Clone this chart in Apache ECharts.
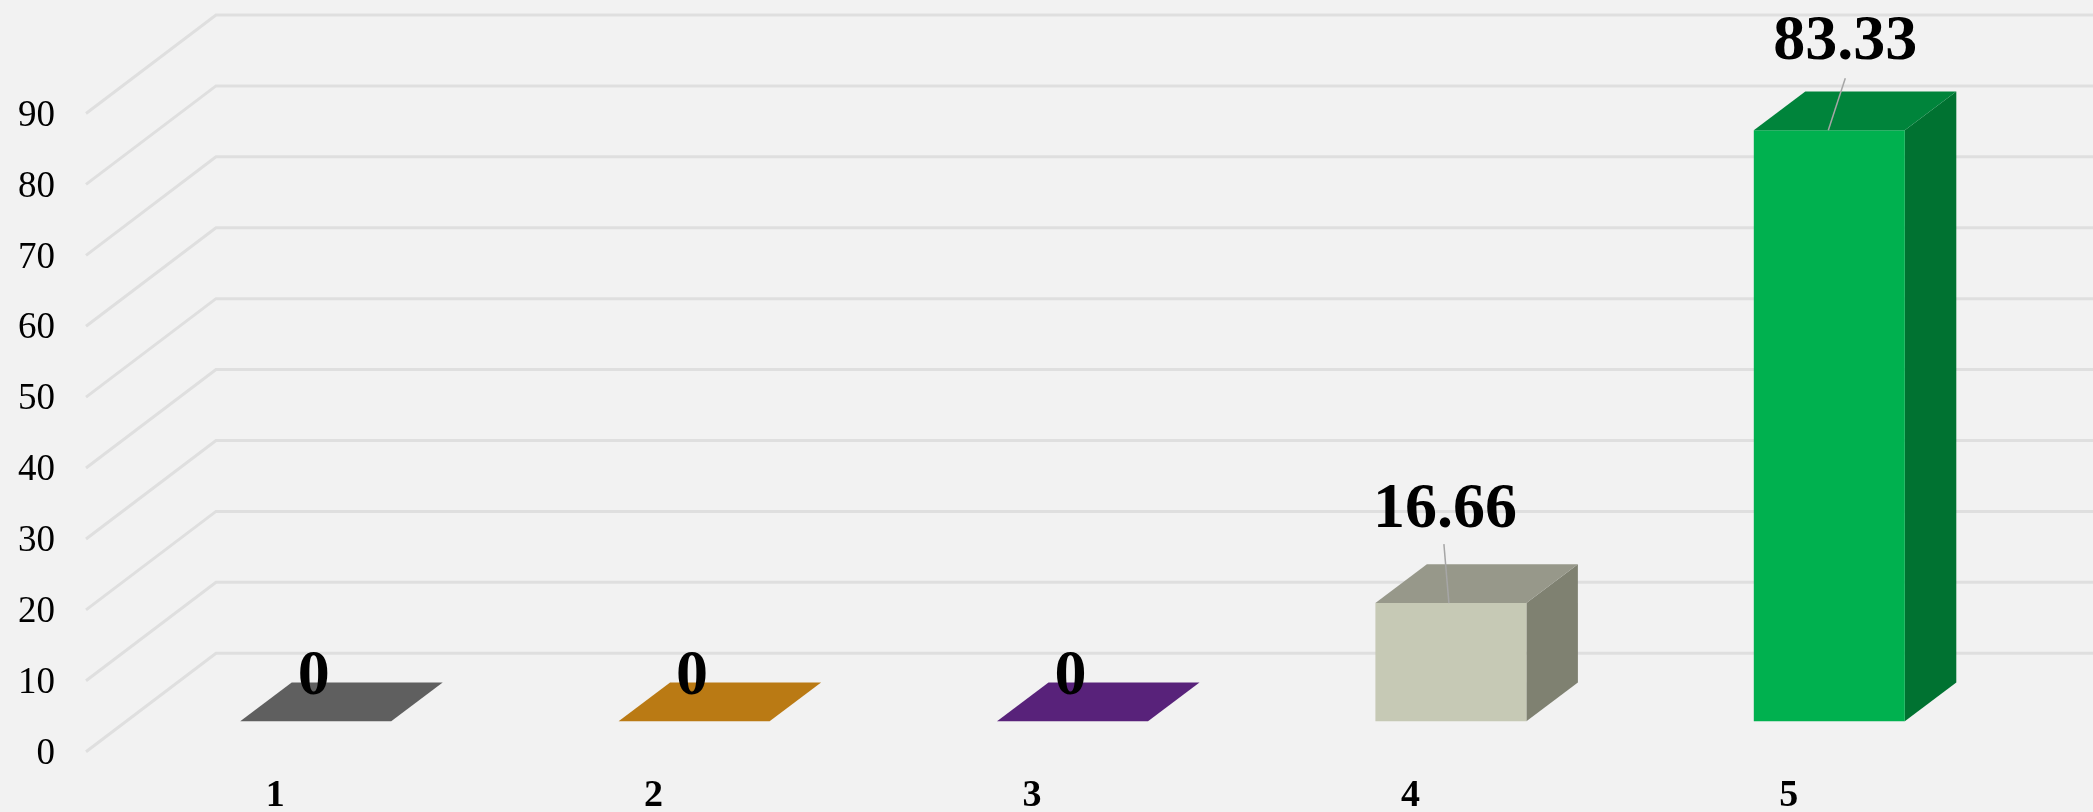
<!DOCTYPE html>
<html>
<head>
<meta charset="utf-8">
<style>html,body{margin:0;padding:0;background:#F2F2F2}#c{width:2093px;height:812px;filter:blur(0.5px)}</style>
<script src="https://cdn.jsdelivr.net/npm/echarts@6/dist/echarts.min.js"></script>
</head>
<body>
<div id="c"></div>
<script>
const categories = ['1', '2', '3', '4', '5'];
const values = [0, 0, 0, 16.66, 83.33];
const valueLabels = ['0', '0', '0', '16.66', '83.33'];
const yTicks = [0, 10, 20, 30, 40, 50, 60, 70, 80, 90];

const frontColors = ['#707070', '#D08A18', '#652A8C', '#C6C9B5', '#00B14F'];
const topColors = ['#5F5F5F', '#BA7A14', '#58227A', '#97988A', '#00843B'];
const sideColors = ['#505050', '#9C6610', '#481B66', '#7F8171', '#007231'];

// label placement relative to the top-front centre of each bar
const labelShiftX = [-2, -2, -2, -6, 16];
const labelShiftY = [-44, -44, -44, -93, -88];
const leaderFrom = [null, null, null, [-7, -59], [16, -52]];
const leaderTo = [null, null, null, [-2, 0], [-1, 0]];

const font = '"Liberation Serif", "Times New Roman", serif';
const wallDX = 130, wallDY = -98.5;
const barOffsetX = 40.5, barOffsetY = -30.5, barDepthX = 51.5, barDepthY = -38.8, barWidth = 151;

function renderGrid(params, api) {
  const p = api.coord([0, api.value(0)]);
  const x0 = params.coordSys.x;
  return {
    type: 'polyline',
    shape: { points: [[x0, p[1]], [x0 + wallDX, p[1] + wallDY], [2100, p[1] + wallDY]] },
    style: { fill: null, stroke: '#DFDFDF', lineWidth: 3 }
  };
}

function renderBar(params, api) {
  const i = params.dataIndex;
  const base = api.coord([i, 0]);
  const top = api.coord([i, api.value(1)]);
  const l = base[0] + barOffsetX - barWidth / 2, r = l + barWidth;
  const b = base[1] + barOffsetY, t = top[1] + barOffsetY;
  const dx = barDepthX, dy = barDepthY;
  const cx = (l + r) / 2;
  const children = [];
  if (b - t > 0.5) {
    children.push({ type: 'polygon', shape: { points: [[r, t], [r + dx, t + dy], [r + dx, b + dy], [r, b]] }, style: { fill: sideColors[i] } });
    children.push({ type: 'polygon', shape: { points: [[l, t], [r, t], [r, b], [l, b]] }, style: { fill: frontColors[i] } });
  }
  children.push({ type: 'polygon', shape: { points: [[l, t], [l + dx, t + dy], [r + dx, t + dy], [r, t]] }, style: { fill: topColors[i] } });
  if (leaderFrom[i]) {
    children.push({ type: 'line', shape: { x1: cx + leaderFrom[i][0], y1: t + leaderFrom[i][1], x2: cx + leaderTo[i][0], y2: t + leaderTo[i][1] }, style: { stroke: '#A6A6A6', lineWidth: 1.5 } });
  }
  children.push({
    type: 'text',
    style: { text: valueLabels[i], x: cx + labelShiftX[i], y: t + labelShiftY[i], align: 'center', verticalAlign: 'middle', fill: '#000', font: 'bold 64px ' + font }
  });
  return { type: 'group', children };
}

const chart = echarts.init(document.getElementById('c'), null, { renderer: 'canvas' });
chart.setOption({
  animation: false,
  backgroundColor: '#F2F2F2',
  grid: { left: 86, right: 115, top: 113.5, bottom: 60.3, containLabel: false, outerBoundsMode: 'none' },
  xAxis: {
    type: 'category',
    data: categories,
    axisLine: { show: false },
    axisTick: { show: false },
    splitLine: { show: false },
    axisLabel: { color: '#000', fontFamily: font, fontWeight: 'bold', fontSize: 38, margin: 25 }
  },
  yAxis: {
    type: 'value',
    min: 0,
    max: 90,
    interval: 10,
    axisLine: { show: false },
    axisTick: { show: false },
    splitLine: { show: false },
    axisLabel: {
      margin: 31,
      formatter: '{t|{value}}',
      rich: { t: { color: '#000', fontFamily: font, fontSize: 37, padding: [5, 0, 0, 0] } }
    }
  },
  series: [
    {
      type: 'custom',
      z: 1,
      silent: true,
      coordinateSystem: 'cartesian2d',
      renderItem: renderGrid,
      encode: { y: 0 },
      data: yTicks.map(v => [v])
    },
    {
      type: 'custom',
      z: 2,
      silent: true,
      coordinateSystem: 'cartesian2d',
      renderItem: renderBar,
      encode: { x: 0, y: 1 },
      data: values.map((v, i) => [i, v])
    }
  ]
});
</script>
</body>
</html>
